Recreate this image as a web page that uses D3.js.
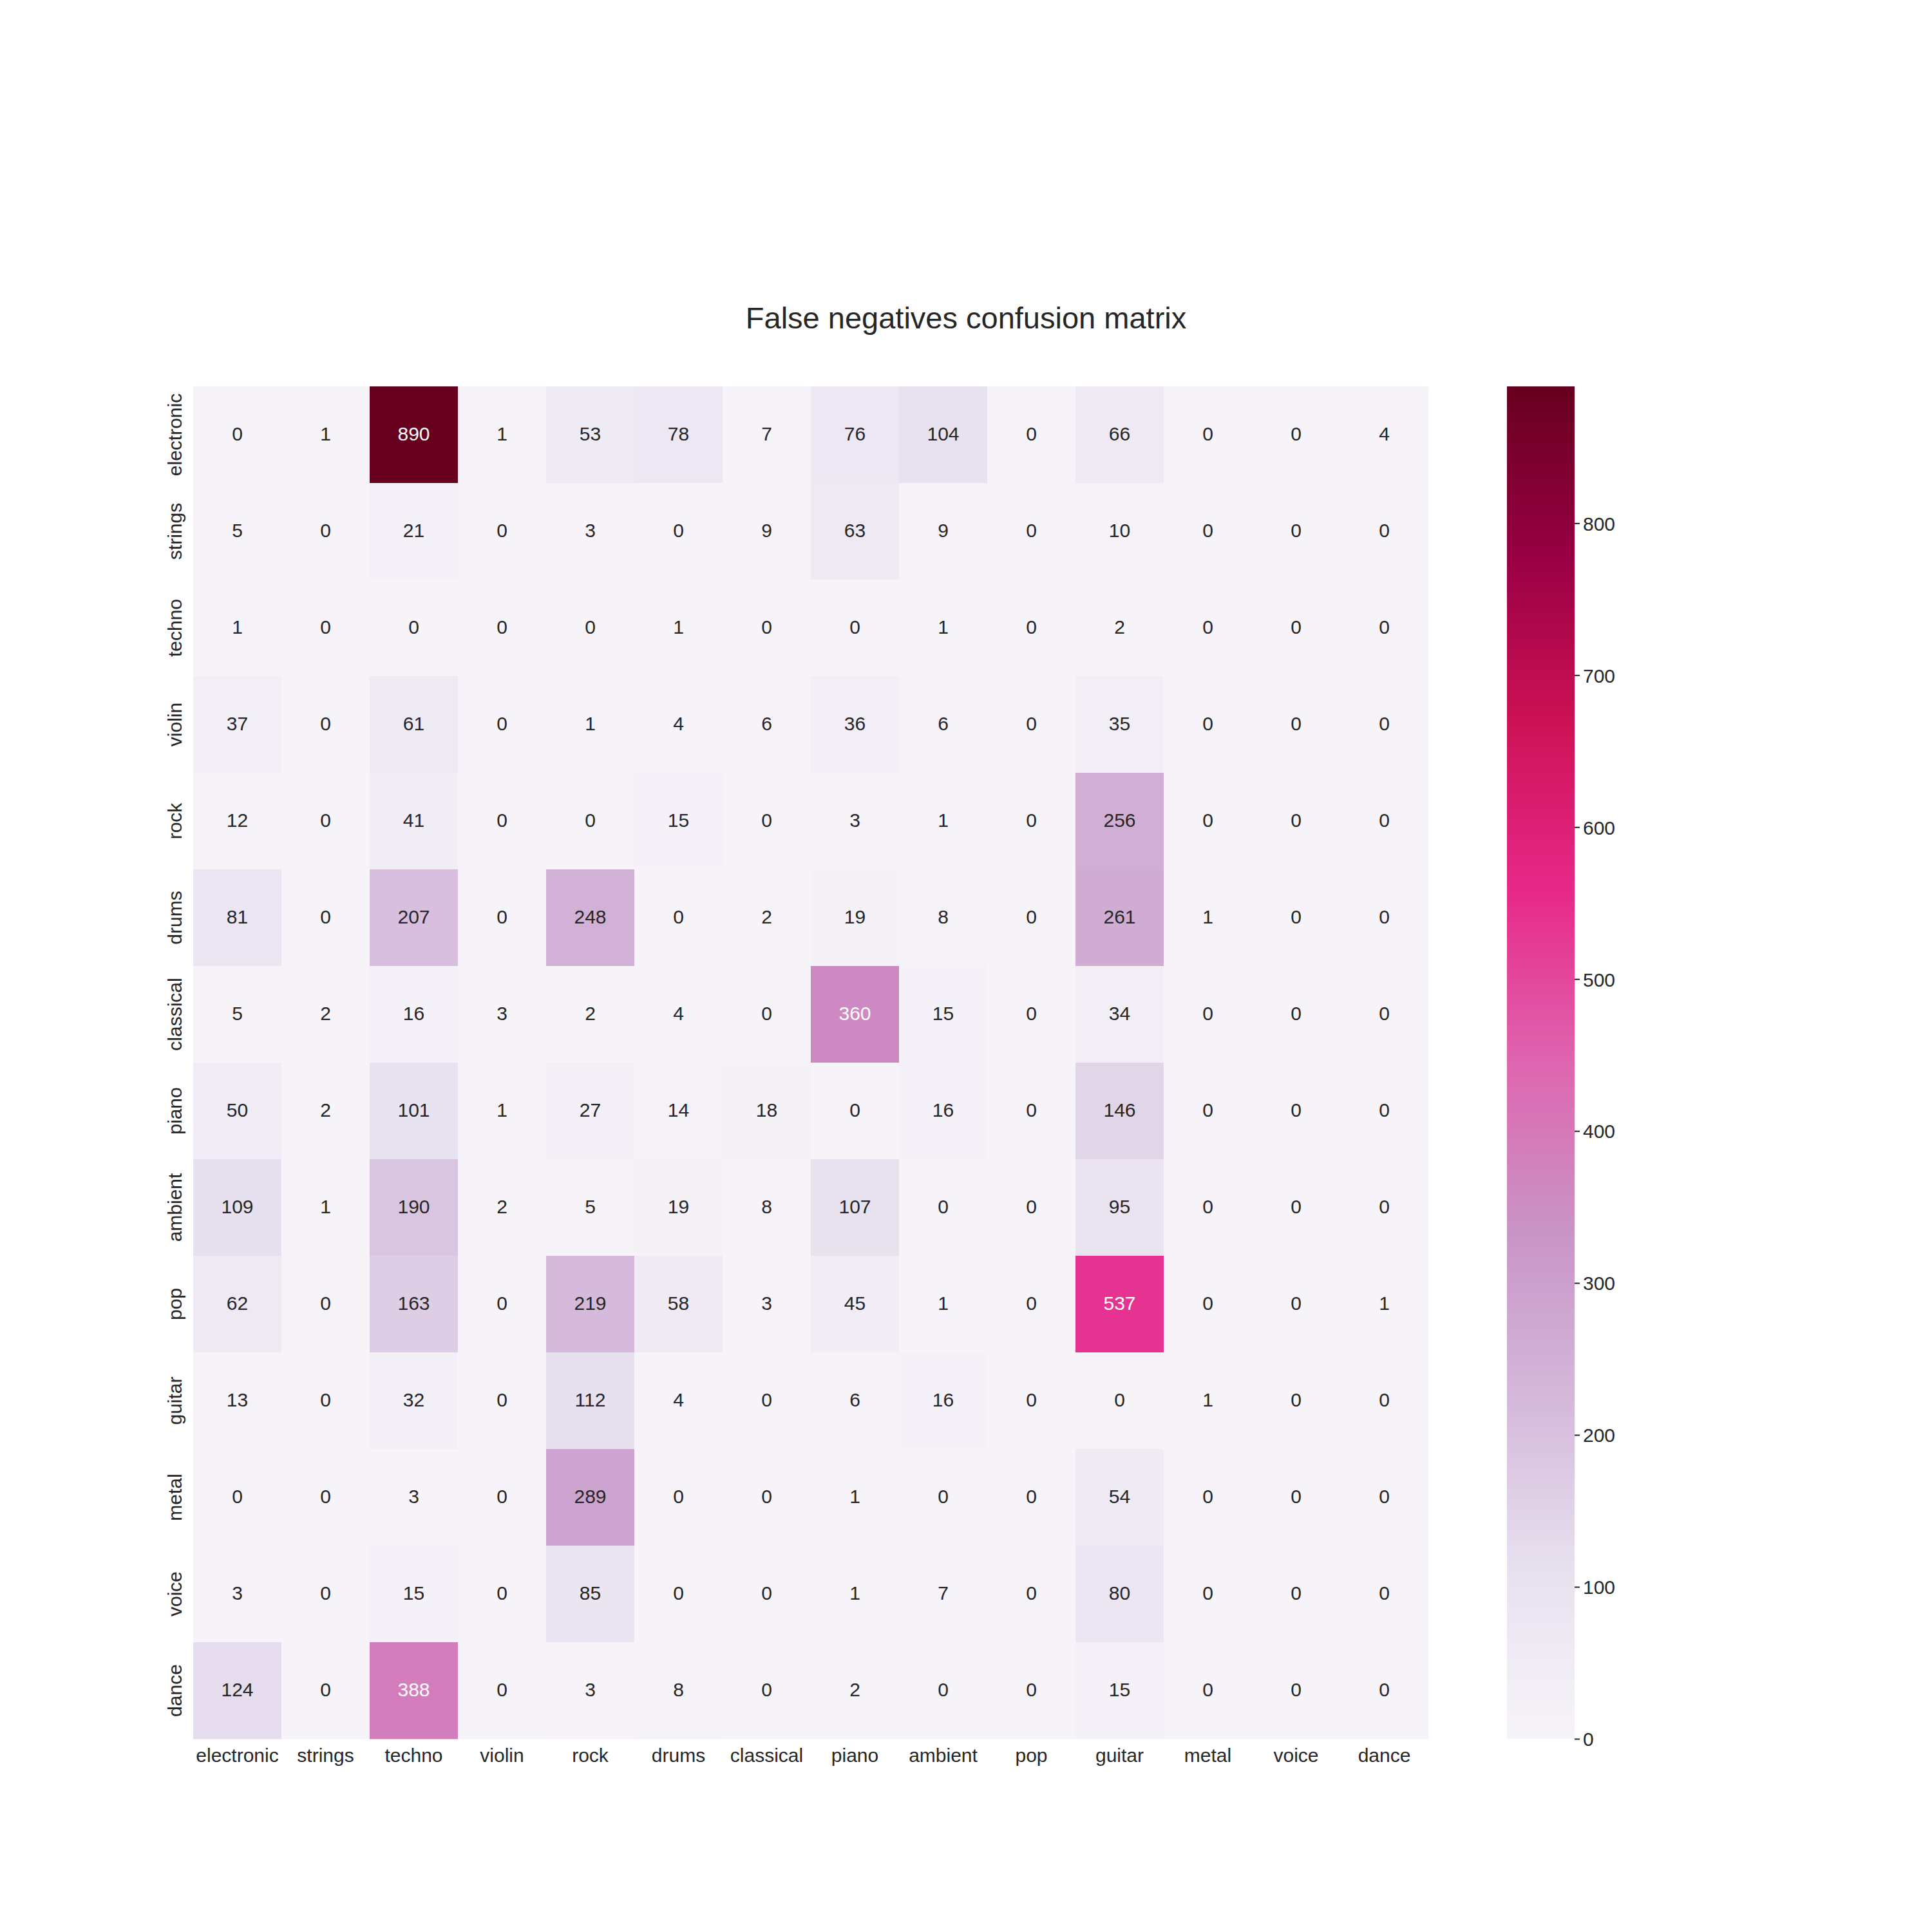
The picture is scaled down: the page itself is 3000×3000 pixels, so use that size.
<!DOCTYPE html>
<html>
<head>
<meta charset="utf-8">
<script src="https://cdn.jsdelivr.net/npm/d3@7"></script>
<style>
  html, body { margin: 0; padding: 0; background: #ffffff; }
  svg text { font-family: "Liberation Sans", Arial, Helvetica, sans-serif; }
</style>
</head>
<body>
<div id="chart"></div>
<script>
const labels = ["electronic", "strings", "techno", "violin", "rock", "drums", "classical",
                "piano", "ambient", "pop", "guitar", "metal", "voice", "dance"];

const rowElectronic = [0, 1, 890, 1, 53, 78, 7, 76, 104, 0, 66, 0, 0, 4];
const rowStrings    = [5, 0, 21, 0, 3, 0, 9, 63, 9, 0, 10, 0, 0, 0];
const rowTechno     = [1, 0, 0, 0, 0, 1, 0, 0, 1, 0, 2, 0, 0, 0];
const rowViolin     = [37, 0, 61, 0, 1, 4, 6, 36, 6, 0, 35, 0, 0, 0];
const rowRock       = [12, 0, 41, 0, 0, 15, 0, 3, 1, 0, 256, 0, 0, 0];
const rowDrums      = [81, 0, 207, 0, 248, 0, 2, 19, 8, 0, 261, 1, 0, 0];
const rowClassical  = [5, 2, 16, 3, 2, 4, 0, 360, 15, 0, 34, 0, 0, 0];
const rowPiano      = [50, 2, 101, 1, 27, 14, 18, 0, 16, 0, 146, 0, 0, 0];
const rowAmbient    = [109, 1, 190, 2, 5, 19, 8, 107, 0, 0, 95, 0, 0, 0];
const rowPop        = [62, 0, 163, 0, 219, 58, 3, 45, 1, 0, 537, 0, 0, 1];
const rowGuitar     = [13, 0, 32, 0, 112, 4, 0, 6, 16, 0, 0, 1, 0, 0];
const rowMetal      = [0, 0, 3, 0, 289, 0, 0, 1, 0, 0, 54, 0, 0, 0];
const rowVoice      = [3, 0, 15, 0, 85, 0, 0, 1, 7, 0, 80, 0, 0, 0];
const rowDance      = [124, 0, 388, 0, 3, 8, 0, 2, 0, 0, 15, 0, 0, 0];

const matrix = [rowElectronic, rowStrings, rowTechno, rowViolin, rowRock, rowDrums, rowClassical,
                rowPiano, rowAmbient, rowPop, rowGuitar, rowMetal, rowVoice, rowDance];

const colorbarTicks = [0, 100, 200, 300, 400, 500, 600, 700, 800];
const titleText = "False negatives confusion matrix";

// PuRd (ColorBrewer 9-class), linear segments as in matplotlib
const puRd = ["#f7f4f9", "#e7e1ef", "#d4b9da", "#c994c7", "#df65b0", "#e7298a", "#ce1256", "#980043", "#67001f"];

const W = 3000, H = 3000;
const plotL = 300, plotR = 2218, plotT = 600, plotB = 2700;
const cbL = 2340, cbW = 105;
const textDark = "#262626";

const vmin = 0, vmax = d3.max(matrix.flat());

const color = d3.scaleLinear()
  .domain(puRd.map((_, i) => vmin + (vmax - vmin) * i / (puRd.length - 1)))
  .range(puRd)
  .interpolate(d3.interpolateRgb)
  .clamp(true);

const x = d3.scaleBand().domain(labels).range([plotL, plotR]).padding(0);
const y = d3.scaleBand().domain(labels).range([plotT, plotB]).padding(0);

function relLum(c) {
  const rgb = d3.rgb(c);
  const lin = v => { v /= 255; return v <= 0.03928 ? v / 12.92 : Math.pow((v + 0.055) / 1.055, 2.4); };
  return 0.2126 * lin(rgb.r) + 0.7152 * lin(rgb.g) + 0.0722 * lin(rgb.b);
}

const svg = d3.select("#chart").append("svg")
  .attr("width", W).attr("height", H)
  .attr("viewBox", `0 0 ${W} ${H}`);

svg.append("rect").attr("width", W).attr("height", H).attr("fill", "#ffffff");

// Title
svg.append("text")
  .attr("x", 1500).attr("y", 510)
  .attr("text-anchor", "middle")
  .attr("font-size", 47)
  .attr("fill", textDark)
  .text(titleText);

// Cells
const cells = [];
matrix.forEach((row, i) => row.forEach((v, j) => cells.push({ r: labels[i], c: labels[j], v })));

const g = svg.append("g");
g.selectAll("rect.cell").data(cells).join("rect")
  .attr("class", "cell")
  .attr("x", d => x(d.c))
  .attr("y", d => y(d.r))
  .attr("width", x.bandwidth() + 0.5)
  .attr("height", y.bandwidth() + 0.5)
  .attr("fill", d => color(d.v));

g.selectAll("text.ann").data(cells).join("text")
  .attr("class", "ann")
  .attr("x", d => x(d.c) + x.bandwidth() / 2)
  .attr("y", d => y(d.r) + y.bandwidth() / 2 + 8.5)
  .attr("text-anchor", "middle")
  .attr("font-size", 30)
  .attr("fill", d => relLum(color(d.v)) > 0.408 ? textDark : "#ffffff")
  .text(d => d.v);

// X axis labels
const xAxis = svg.append("g")
  .attr("transform", `translate(0,${plotB})`)
  .call(d3.axisBottom(x).tickSize(0).tickPadding(0));
xAxis.select(".domain").remove();
xAxis.selectAll("text")
  .attr("y", 36).attr("dy", null)
  .attr("font-size", 30)
  .attr("fill", textDark);

// Y axis labels (rotated)
const yAxis = svg.append("g")
  .attr("transform", `translate(${plotL},0)`)
  .call(d3.axisLeft(y).tickSize(0).tickPadding(0));
yAxis.select(".domain").remove();
yAxis.selectAll("text")
  .attr("x", 0).attr("y", 0).attr("dy", null)
  .attr("transform", "translate(-18,0) rotate(-90)")
  .attr("text-anchor", "middle")
  .attr("font-size", 30)
  .attr("fill", textDark);

// Colorbar
const cbScale = d3.scaleLinear().domain([vmin, vmax]).range([plotB, plotT]);
const defs = svg.append("defs");
const grad = defs.append("linearGradient")
  .attr("id", "cbgrad")
  .attr("x1", "0").attr("y1", "1").attr("x2", "0").attr("y2", "0");
puRd.forEach((c, i) => {
  grad.append("stop").attr("offset", i / (puRd.length - 1)).attr("stop-color", c);
});
svg.append("rect")
  .attr("x", cbL).attr("y", plotT)
  .attr("width", cbW).attr("height", plotB - plotT)
  .attr("fill", "url(#cbgrad)");

const cbAxis = svg.append("g")
  .attr("transform", `translate(${cbL + cbW},0)`)
  .call(d3.axisRight(cbScale).tickValues(colorbarTicks).tickSize(8).tickPadding(5).tickFormat(d3.format("d")));
cbAxis.select(".domain").remove();
cbAxis.selectAll("line").attr("stroke", textDark).attr("stroke-width", 2);
cbAxis.selectAll("text")
  .attr("dy", null).attr("y", 10.8)
  .attr("font-size", 30)
  .attr("fill", textDark);
</script>
</body>
</html>
